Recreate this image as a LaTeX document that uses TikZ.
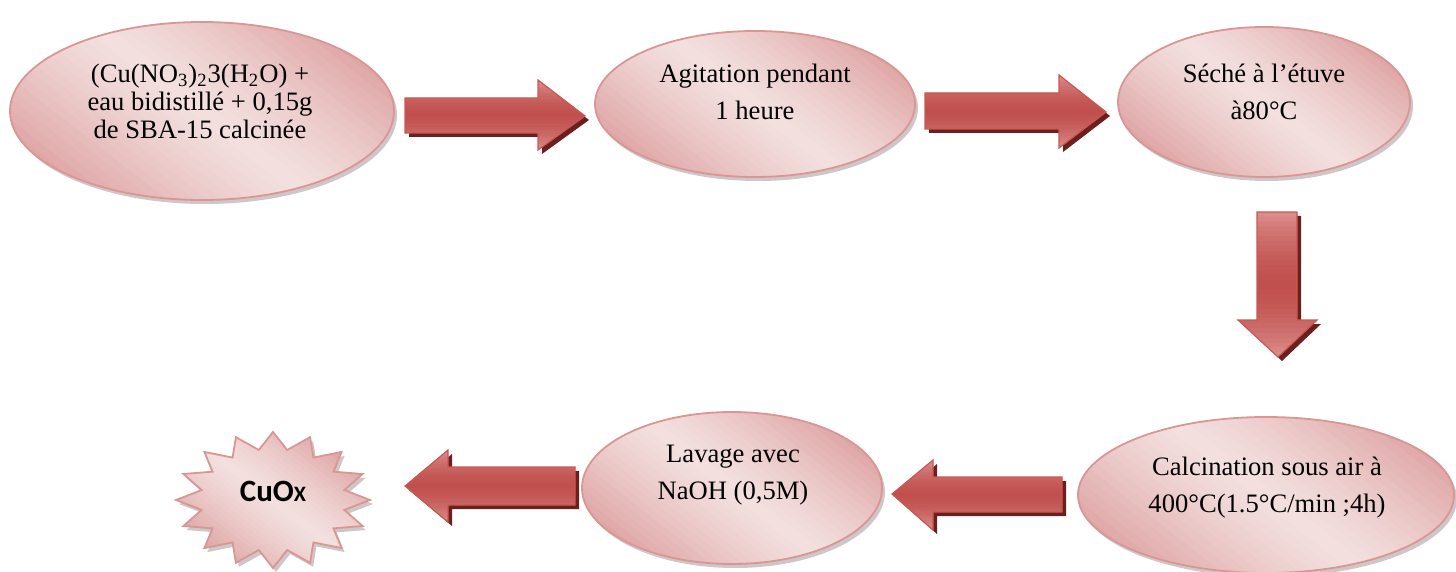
\documentclass[tikz,border=0pt]{standalone}
\usepackage{fontspec}
\setmainfont{Liberation Serif}
\newfontfamily\calibfont{Carlito}
\usetikzlibrary{shapes.geometric}

\definecolor{arrmid}{HTML}{C0504D}
\definecolor{arrlight}{HTML}{DC8F8D}
\definecolor{arrshadow}{HTML}{6B201E}
\definecolor{arredge}{HTML}{C85855}
\definecolor{pinkdark}{HTML}{DCA09F}
\definecolor{pinklight}{HTML}{F3E0DF}
\definecolor{pinkedge}{HTML}{D99694}
\definecolor{shadowcol}{HTML}{BBAFAF}

\tikzset{
  blob/.style={ellipse, draw=pinkedge, line width=0.9pt, inner sep=0pt},
  steptext/.style={align=center, inner sep=0pt, font=\fontsize{13.3}{18.5}\selectfont},
  arrowedge/.style={draw=arredge, line width=0.6pt, line join=miter},
  arrowshadow/.style={fill=arrshadow},
  staredge/.style={draw=pinkedge, line width=0.9pt, line join=miter},
}

% horizontal strips for the block arrows: ytop ybot xleft xright
\newcommand\redstrips[4]{%
  \foreach \i in {0,...,29}{%
    \pgfmathsetmacro\ya{#1+(#2-#1)*\i/30}%
    \pgfmathsetmacro\yb{#1+(#2-#1)*(\i+1.4)/30}%
    \pgfmathsetmacro\gt{(abs(\i+0.5-15)/15)^1.6*100}%
    \fill[arrlight!\gt!arrmid] (#3,\ya) rectangle (#4,\yb);
  }}

% diagonal strips for pink shapes, drawn around (cx,cy) with half-range r and half-length l
\newcommand\pinkstrips[4]{%
  \pgfmathsetmacro\hl{#4}%
  \begin{scope}[shift={(#1,#2)}, rotate=-38]
    \foreach \i in {0,...,35}{%
      \pgfmathsetmacro\ya{-#3+2*#3*\i/36}%
      \pgfmathsetmacro\yb{-#3+2*#3*(\i+1.4)/36}%
      \pgfmathsetmacro\gt{(abs(\i+0.5-18)/18)^1.3*100}%
      \fill[pinkdark!\gt!pinklight] (-\hl,\ya) rectangle (\hl,\yb);
    }
  \end{scope}}

% pink ellipse fill with shadow: cx cy rx ry (px)
\newcommand\pinkellipse[4]{%
  \fill[shadowcol, opacity=0.7] (#1+3,#2+4) ellipse [x radius=#3*0.5pt, y radius=#4*0.5pt];
  \begin{scope}
    \clip (#1,#2) ellipse [x radius=#3*0.5pt, y radius=#4*0.5pt];
    \fill[pinkdark] (#1-#3-5,#2-#4-5) rectangle (#1+#3+5,#2+#4+5);
    \pgfmathsetmacro\rr{veclen(#3,#4)*0.7071}%
    \pinkstrips{#1}{#2}{\rr}{#3+#4+40}
  \end{scope}}

\begin{document}
\begin{tikzpicture}[x=0.5pt, y=-0.5pt]
\useasboundingbox (0,0) rectangle (1456,572);

% ellipse fills
\pinkellipse{202}{111}{192}{89}
\pinkellipse{755}{104}{160}{73}
\pinkellipse{1264}{102}{146}{75}
\pinkellipse{1266}{495}{188}{78}
\pinkellipse{732}{488}{150}{76}

% ellipse nodes (outlines)
\node[blob, minimum width=192pt, minimum height=89pt] (e1) at (202,111) {};
\node[blob, minimum width=160pt, minimum height=73pt] (e2) at (755,104) {};
\node[blob, minimum width=146pt, minimum height=75pt] (e3) at (1264,102) {};
\node[blob, minimum width=188pt, minimum height=78pt] (e4) at (1266,495) {};
\node[blob, minimum width=150pt, minimum height=76pt] (e5) at (732,488) {};

% star
\fill[shadowcol, opacity=0.7] plot[domain=0:31, samples=32]
  ({276+97*(1-0.25*mod(\x,2))*cos(\x*11.25)}, {504-68*(1-0.25*mod(\x,2))*sin(\x*11.25)}) -- cycle;
\begin{scope}
  \clip plot[domain=0:31, samples=32]
    ({273+97*(1-0.25*mod(\x,2))*cos(\x*11.25)}, {500-68*(1-0.25*mod(\x,2))*sin(\x*11.25)}) -- cycle;
  \fill[pinkdark] (170,425) rectangle (376,575);
  \pinkstrips{273}{500}{85}{200}
\end{scope}
\draw[staredge] plot[domain=0:31, samples=32]
  ({273+97*(1-0.25*mod(\x,2))*cos(\x*11.25)}, {500-68*(1-0.25*mod(\x,2))*sin(\x*11.25)}) -- cycle;

% texts
\node[steptext, font=\fontsize{13.3}{14}\selectfont] (t1) at (200,101)
  {(Cu(NO\textsubscript{3})\textsubscript{2}3(H\textsubscript{2}O) +\\eau bidistillé + 0,15g\\de SBA-15 calcinée};
\node[steptext] (t2) at (755,92) {Agitation pendant\\1 heure};
\node[steptext] (t3) at (1264,92) {Séché à l’étuve\\à80°C};
\node[steptext] (t4) at (1267,488) {Calcination sous air à\\400°C(1.5°C/min ;4h)};
\node[steptext] (t5) at (733,475) {Lavage avec\\NaOH (0,5M)};
\node[inner sep=0pt] (cuox) at (273,491)
  {\calibfont\bfseries\fontsize{15.5}{18}\selectfont CuO{\fontsize{11}{12}\selectfont X}};

% arrow 1 (right)
\fill[arrowshadow] (409,102) -- (542,102) -- (542,84) -- (589,120) -- (542,154) -- (542,137) -- (409,137) -- cycle;
\begin{scope}
  \clip (405,98) -- (538,98) -- (538,80) -- (585,116) -- (538,150) -- (538,133) -- (405,133) -- cycle;
  \redstrips{80}{150}{400}{590}
\end{scope}
\draw[arrowedge] (405,98) -- (538,98) -- (538,80) -- (585,116) -- (538,150) -- (538,133) -- (405,133) -- cycle;

% arrow 2 (right)
\fill[arrowshadow] (929,97) -- (1063,97) -- (1063,79) -- (1110,116) -- (1063,152) -- (1063,133) -- (929,133) -- cycle;
\begin{scope}
  \clip (925,93) -- (1059,93) -- (1059,75) -- (1106,112) -- (1059,148) -- (1059,129) -- (925,129) -- cycle;
  \redstrips{75}{148}{920}{1110}
\end{scope}
\draw[arrowedge] (925,93) -- (1059,93) -- (1059,75) -- (1106,112) -- (1059,148) -- (1059,129) -- (925,129) -- cycle;

% arrow 3 (down)
\fill[arrowshadow] (1261,216) -- (1301,216) -- (1301,324) -- (1321,324) -- (1282,361) -- (1242,324) -- (1261,324) -- cycle;
\begin{scope}
  \clip (1257,212) -- (1297,212) -- (1297,320) -- (1317,320) -- (1278,357) -- (1238,320) -- (1257,320) -- cycle;
  \redstrips{212}{357}{1230}{1325}
\end{scope}
\draw[arrowedge] (1257,212) -- (1297,212) -- (1297,320) -- (1317,320) -- (1278,357) -- (1238,320) -- (1257,320) -- cycle;

% arrow 4 (left)
\fill[arrowshadow] (1066,481) -- (937,481) -- (937,464) -- (896,498) -- (937,534) -- (937,516) -- (1066,516) -- cycle;
\begin{scope}
  \clip (1062,477) -- (933,477) -- (933,460) -- (892,494) -- (933,530) -- (933,512) -- (1062,512) -- cycle;
  \redstrips{460}{530}{885}{1070}
\end{scope}
\draw[arrowedge] (1062,477) -- (933,477) -- (933,460) -- (892,494) -- (933,530) -- (933,512) -- (1062,512) -- cycle;

% arrow 5 (left)
\fill[arrowshadow] (579,471) -- (452,471) -- (452,454) -- (409,490) -- (452,526) -- (452,509) -- (579,509) -- cycle;
\begin{scope}
  \clip (575,467) -- (448,467) -- (448,450) -- (405,486) -- (448,522) -- (448,505) -- (575,505) -- cycle;
  \redstrips{450}{522}{400}{580}
\end{scope}
\draw[arrowedge] (575,467) -- (448,467) -- (448,450) -- (405,486) -- (448,522) -- (448,505) -- (575,505) -- cycle;

\end{tikzpicture}
\end{document}
